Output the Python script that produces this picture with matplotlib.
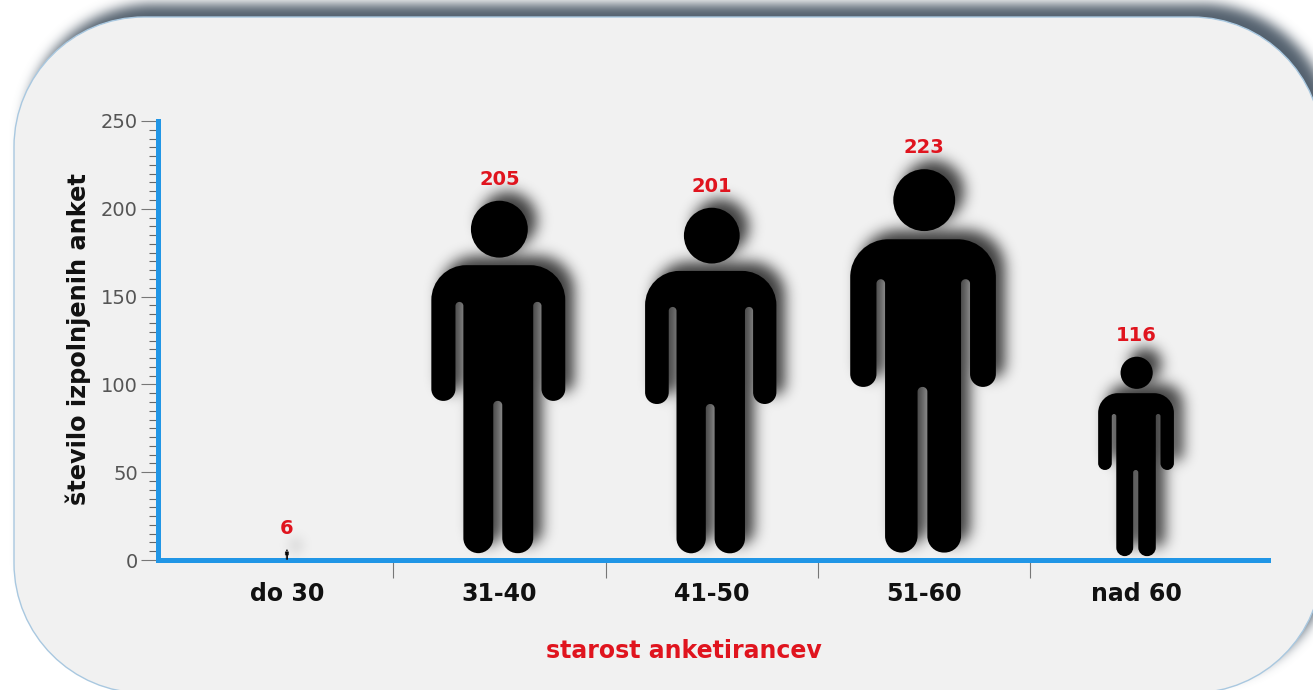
"""Survey respondents by age group, drawn as a pictogram of scaled human figures."""
import matplotlib
matplotlib.use("Agg")
import matplotlib.pyplot as plt
import numpy as np
from matplotlib.patches import PathPatch
from matplotlib.path import Path
from matplotlib.transforms import Affine2D, IdentityTransform

categories = ["do 30", "31-40", "41-50", "51-60", "nad 60"]
counts = [6, 205, 201, 223, 116]
y_ticks = [0, 50, 100, 150, 200, 250]
y_label = "število izpolnjenih anket"
x_label = "starost anketirancev"

WIDTH, HEIGHT = 1313, 690
BLUE = "#2196e6"
RED = "#e0141e"

# Figure outline as fractions of the figure height: (across, up, corner radius)
BODY_SHAPE = [
    (-0.189, 0.819, 0.097), (0.183, 0.819, 0.097), (0.183, 0.442, 0.033),
    (0.117, 0.442, 0.033), (0.117, 0.717, 0.011), (0.094, 0.717, 0.011),
    (0.094, 0.019, 0.042), (0.008, 0.019, 0.042), (0.008, 0.442, 0.012),
    (-0.017, 0.442, 0.012), (-0.017, 0.019, 0.042), (-0.100, 0.019, 0.042),
    (-0.100, 0.717, 0.011), (-0.122, 0.717, 0.011), (-0.122, 0.442, 0.033),
    (-0.189, 0.442, 0.033),
]
HEAD_CENTRE = (0.0, 0.919)
HEAD_RADIUS = 0.079


def rounded_path(corners):
    """Builds a closed path from (x, y, radius) corners, rounding each one."""
    kappa = 0.5523
    verts, codes = [], []
    count = len(corners)
    for i, (x, y, radius) in enumerate(corners):
        point = np.array([x, y])
        before = np.array(corners[i - 1][:2]) - point
        after = np.array(corners[(i + 1) % count][:2]) - point
        start = point + radius * before / np.linalg.norm(before)
        end = point + radius * after / np.linalg.norm(after)
        verts.append(start)
        codes.append(Path.MOVETO if i == 0 else Path.LINETO)
        verts.extend([
            start + kappa * (point - start),
            end + kappa * (point - end),
            end,
        ])
        codes.extend([Path.CURVE4] * 3)
    verts.append(verts[0])
    codes.append(Path.CLOSEPOLY)
    return Path(np.array(verts), codes)


def person_path(position, value, x_per_y):
    """Returns the figure outline in data coordinates, as tall as the value."""
    head = Path.circle(HEAD_CENTRE, HEAD_RADIUS)
    shape = Path.make_compound_path(rounded_path(BODY_SHAPE), head)
    verts = shape.vertices * value
    verts[:, 0] = position + verts[:, 0] * x_per_y
    return Path(verts, shape.codes)


def blur(mask, sigma):
    """Gaussian blur along both image axes."""
    radius = int(3 * sigma)
    kernel = np.exp(-0.5 * (np.arange(-radius, radius + 1) / sigma) ** 2)
    kernel /= kernel.sum()
    mask = np.apply_along_axis(np.convolve, 0, mask, kernel, mode="same")
    return np.apply_along_axis(np.convolve, 1, mask, kernel, mode="same")


def shadow_image(path, shift, sigma, colour, opacity):
    """Renders a display-space path to a blurred RGBA image of the whole figure."""
    pad = 40
    xs, ys = np.meshgrid(
        np.arange(-pad, WIDTH + pad) + 0.5,
        np.arange(HEIGHT + pad - 1, -pad - 1, -1) + 0.5,
    )
    moved = path.transformed(Affine2D().translate(*shift))
    inside = moved.contains_points(np.column_stack([xs.ravel(), ys.ravel()]))
    alpha = blur(inside.reshape(xs.shape).astype(float), sigma)[pad:-pad, pad:-pad]
    image = np.zeros((HEIGHT, WIDTH, 4))
    image[..., :3] = matplotlib.colors.to_rgb(colour)
    image[..., 3] = alpha * opacity
    return image


fig = plt.figure(figsize=(WIDTH / 100, HEIGHT / 100), dpi=100, facecolor="white")
ax = fig.add_axes([158 / WIDTH, 130 / HEIGHT, 1109.5 / WIDTH, 439 / HEIGHT])
ax.set_facecolor("none")
ax.set_xlim(-0.607, 4.616)
ax.set_ylim(0, 250)

# Panel behind the chart, running off the right and bottom of the picture
r = 130
panel = rounded_path([
    (14, HEIGHT - 17, r), (1322, HEIGHT - 17, r), (1322, -3, r), (14, -3, r),
])
fig.figimage(shadow_image(panel, (10, 13), 6, "#4a5866", 0.95), zorder=-3, origin="upper")
fig.add_artist(PathPatch(panel, facecolor="#f1f1f1", edgecolor="#a9c8e0", linewidth=1.0,
                         transform=IdentityTransform(), zorder=-2))

# Figures and their soft shadows
origin, corner = ax.transData.transform([(0, 0), (1, 1)])
x_per_y = (corner[1] - origin[1]) / (corner[0] - origin[0])
persons = [person_path(i, value, x_per_y) for i, value in enumerate(counts)]
for person in persons:
    ax.add_patch(PathPatch(person, facecolor="black", edgecolor="none", clip_on=False, zorder=3))
all_persons = Path.make_compound_path(*[p.transformed(ax.transData) for p in persons])
fig.figimage(shadow_image(all_persons, (9, 9), 7, "black", 0.75), zorder=-1, origin="upper")

for i, value in enumerate(counts):
    ax.annotate(str(value), (i, value), xytext=(0, 8), textcoords="offset points",
                ha="center", va="bottom", color=RED, fontsize=14, fontweight="bold")

for side in ["top", "right"]:
    ax.spines[side].set_visible(False)
for side in ["left", "bottom"]:
    ax.spines[side].set_color(BLUE)
    ax.spines[side].set_linewidth(3.6)

ax.set_yticks(y_ticks)
ax.set_yticks(np.arange(0, 251, 5), minor=True)
ax.tick_params(axis="y", which="major", length=12, width=0.8, color="#777777",
               labelsize=14, labelcolor="#555555", pad=2.5)
ax.tick_params(axis="y", which="minor", length=6.5, width=0.8, color="#666666")

ax.set_xticks(np.arange(len(categories) - 1) + 0.5)
ax.set_xticklabels([])
ax.set_xticks(np.arange(len(categories)), labels=categories, minor=True)
ax.tick_params(axis="x", which="major", length=13, width=0.8, color="#777777")
ax.tick_params(axis="x", which="minor", length=0, pad=16, labelsize=17, labelcolor="#111111")
for label in ax.get_xticklabels(minor=True):
    label.set_fontweight("bold")

ax.set_ylabel(y_label, fontsize=17.3, fontweight="bold", color="#111111", va="center")
ax.yaxis.set_label_coords(-0.072, 0.503)
ax.set_xlabel(x_label, fontsize=17, fontweight="bold", color=RED, va="center")
ax.xaxis.set_label_coords(0.474, -0.207)

fig.savefig("out.png", dpi=100)
